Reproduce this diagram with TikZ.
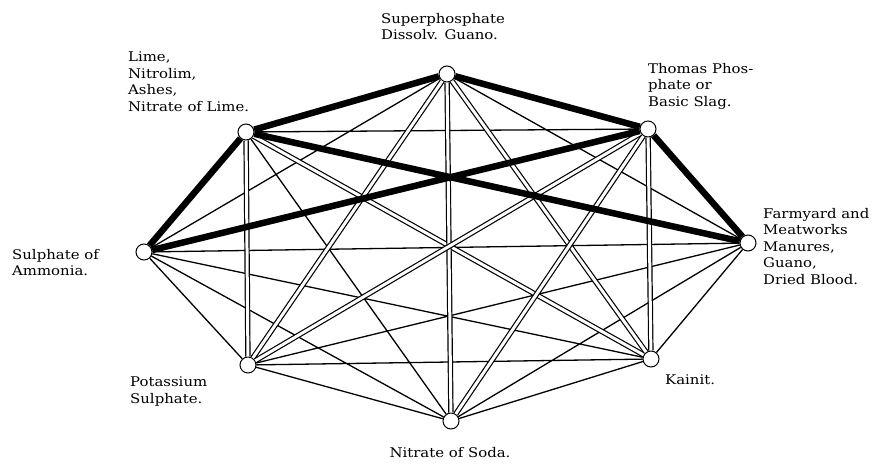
\documentclass[tikz,border=0pt]{standalone}
\usepackage{fontspec}
\setmainfont{DejaVu Serif}[FakeStretch=1.12]
\usetikzlibrary{positioning}

\tikzset{
  manure/.style={circle,draw,fill=white,line width=1pt,minimum size=16pt,inner sep=0pt},
  mixname/.style={inner sep=0pt,align=left,font=\fontsize{13.3}{16.5}\selectfont},
  mixok/.style={line width=1.3pt},
  mixsoon/.style={double,double distance=3pt,line width=1.2pt},
  nomix/.style={line width=6.5pt}
}

\begin{document}
\begin{tikzpicture}[x=1pt,y=-1pt]
\useasboundingbox (0,0) rectangle (879,464);

% The eight manures
\node[manure] (lime) at (246,132) {};
\node[manure] (superphos) at (447,74) {};
\node[manure] (thomas) at (648,129) {};
\node[manure] (farmyard) at (748,243) {};
\node[manure] (kainit) at (651,359) {};
\node[manure] (nitsoda) at (451,421) {};
\node[manure] (potash) at (248,365) {};
\node[manure] (ammonia) at (144,252) {};

% may be mixed
\draw[mixok] (lime) -- (thomas) (lime) -- (nitsoda)
  (superphos) -- (farmyard) (superphos) -- (ammonia)
  (farmyard) -- (kainit) (farmyard) -- (nitsoda) (farmyard) -- (potash) (farmyard) -- (ammonia)
  (kainit) -- (nitsoda) (kainit) -- (potash) (kainit) -- (ammonia)
  (nitsoda) -- (potash) (nitsoda) -- (ammonia) (potash) -- (ammonia);

% may be mixed only just before use
\draw[mixsoon] (lime) -- (kainit);
\draw[mixsoon] (lime) -- (potash);
\draw[mixsoon] (superphos) -- (kainit);
\draw[mixsoon] (superphos) -- (nitsoda);
\draw[mixsoon] (superphos) -- (potash);
\draw[mixsoon] (thomas) -- (kainit);
\draw[mixsoon] (thomas) -- (nitsoda);
\draw[mixsoon] (thomas) -- (potash);

% must not be mixed
\draw[nomix] (lime) -- (superphos) (lime) -- (farmyard) (lime) -- (ammonia)
  (superphos) -- (thomas) (thomas) -- (farmyard) (thomas) -- (ammonia);

% Names
\node[mixname,anchor=north] (superphos-txt) at (443,13) {Superphosphate\\Dissolv. Guano.};
\node[mixname,anchor=north west] (lime-txt) at (128,52) {Lime,\\Nitrolim,\\Ashes,\\Nitrate of Lime.};
\node[mixname,anchor=north west] (thomas-txt) at (648,63) {Thomas Phos-\\phate or\\Basic Slag.};
\node[mixname,anchor=north west] (farmyard-txt) at (763,208) {Farmyard and\\Meatworks\\Manures,\\Guano,\\Dried Blood.};
\node[mixname,anchor=north west] (ammonia-txt) at (12,249) {Sulphate of\\Ammonia.};
\node[mixname,anchor=north west] (potash-txt) at (130,377) {Potassium\\Sulphate.};
\node[mixname,anchor=north west] (kainit-txt) at (665,375) {Kainit.};
\node[mixname,anchor=north] (nitsoda-txt) at (450,447) {Nitrate of Soda.};
\end{tikzpicture}
\end{document}
